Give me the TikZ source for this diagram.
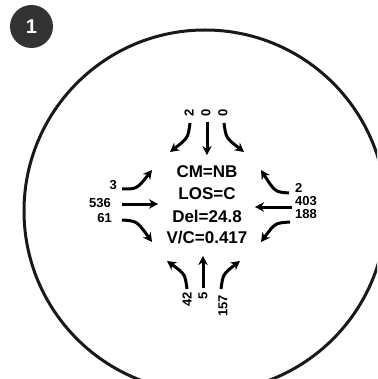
\documentclass[tikz,border=0pt]{standalone}
\usepackage{fontspec}
\setmainfont{Liberation Sans}
\usetikzlibrary{arrows.meta}
\tikzset{
  mv/.style={line width=3pt, -{Stealth[length=9pt,width=9.5pt]}},
  vol/.style={font=\bfseries\fontsize{13}{13}\selectfont, inner sep=0pt},
  res/.style={font=\bfseries\fontsize{17}{17}\selectfont, inner sep=0pt},
  badge/.style={circle, fill=black!80, minimum size=43pt, inner sep=0pt, text=white, font=\bfseries\fontsize{20}{20}\selectfont},
  ring/.style={line width=3pt, draw=black!90},
}
\begin{document}
\begin{tikzpicture}[x=1pt,y=1pt]
\useasboundingbox (0,0) rectangle (377,-379);
\clip (0,0) rectangle (377,-379);
\fill[white] (0,0) rectangle (377,-379);
% intersection ring
\draw[ring] (205,-211) circle (181);
% badge
\node[badge] (bdg) at (31.5,-26.5) {1};
% results
\node[res] (cm)  at (207,-172) {CM=NB};
\node[res] (los) at (207,-194) {LOS=C};
\node[res] (del) at (207,-216) {Del=24.8};
\node[res] (vc)  at (207,-238) {V/C=0.417};
% left approach volumes
\node[vol, anchor=east] (wl) at (117,-185) {3};
\node[vol, anchor=east] (wt) at (111,-203) {536};
\node[vol, anchor=east] (wr) at (112,-218) {61};
% right approach volumes
\node[vol, anchor=west] (er) at (295,-188) {2};
\node[vol, anchor=west] (et) at (295,-201) {403};
\node[vol, anchor=west] (el) at (295,-214) {188};
% top approach volumes
\node[vol, rotate=90] (nr) at (189,-113) {2};
\node[vol, rotate=90] (nt) at (206,-113) {0};
\node[vol, rotate=90] (nl) at (223,-113) {0};
% bottom approach volumes
\node[vol, rotate=90, anchor=east] (sl) at (187,-292) {42};
\node[vol, rotate=90, anchor=east] (st) at (203,-292) {5};
\node[vol, rotate=90, anchor=east] (sr) at (223,-295) {157};
% movement coordinates
\coordinate (n1a) at (190,-123); \coordinate (n1b) at (170,-152);
\coordinate (n2a) at (207,-122); \coordinate (n2b) at (207,-155);
\coordinate (n3a) at (224,-123); \coordinate (n3b) at (244,-152);
\coordinate (s1a) at (187,-289); \coordinate (s1b) at (167,-261);
\coordinate (s2a) at (203,-288); \coordinate (s2b) at (203,-256);
\coordinate (s3a) at (221,-289); \coordinate (s3b) at (240,-261);
\coordinate (w1a) at (122,-189); \coordinate (w1b) at (152,-170);
\coordinate (w2a) at (122,-204); \coordinate (w2b) at (158,-204);
\coordinate (w3a) at (122,-220); \coordinate (w3b) at (152,-242);
\coordinate (e1a) at (289,-193); \coordinate (e1b) at (261,-170);
\coordinate (e2a) at (292,-207); \coordinate (e2b) at (255,-207);
\coordinate (e3a) at (290,-222); \coordinate (e3b) at (261,-242);
% top arrows
\draw[mv] (n1a) .. controls (188,-138) .. (n1b);
\draw[mv] (n2a) -- (n2b);
\draw[mv] (n3a) .. controls (226,-138) .. (n3b);
% bottom arrows
\draw[mv] (s1a) .. controls (185,-274) .. (s1b);
\draw[mv] (s2a) -- (s2b);
\draw[mv] (s3a) .. controls (223,-274) .. (s3b);
% left arrows
\draw[mv] (w1a) .. controls (137,-189) .. (w1b);
\draw[mv] (w2a) -- (w2b);
\draw[mv] (w3a) .. controls (137,-221) .. (w3b);
% right arrows
\draw[mv] (e1a) .. controls (275,-192) .. (e1b);
\draw[mv] (e2a) -- (e2b);
\draw[mv] (e3a) .. controls (275,-223) .. (e3b);
\end{tikzpicture}
\end{document}
